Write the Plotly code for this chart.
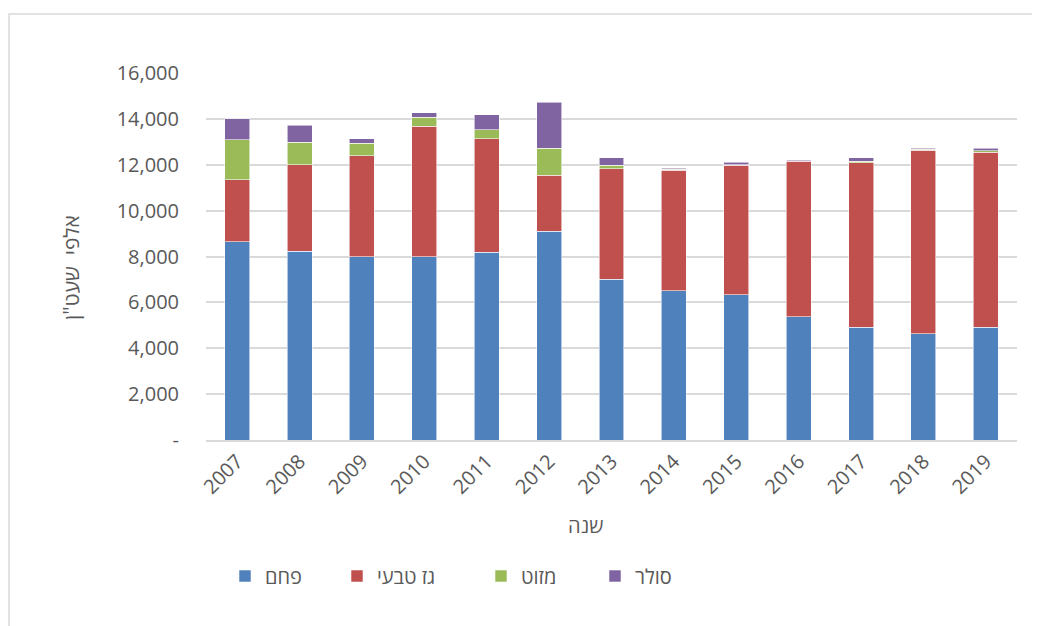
import plotly.graph_objects as go

years = ["2007", "2008", "2009", "2010", "2011", "2012", "2013",
         "2014", "2015", "2016", "2017", "2018", "2019"]
coal = [8650, 8220, 7985, 7985, 8190, 9105, 7010, 6500, 6340, 5370, 4915, 4625, 4915]
gas = [2690, 3780, 4410, 5700, 4945, 2430, 4815, 5250, 5630, 6775, 7170, 8000, 7620]
mazut = [1745, 975, 540, 380, 395, 1180, 160, 60, 30, 20, 60, 60, 75]
solar = [930, 755, 205, 205, 655, 2020, 320, 45, 100, 55, 160, 45, 100]

series_names = ["פחם", "גז טבעי", "מזוט", "סולר"]
series_values = [coal, gas, mazut, solar]
colors = ["#4F81BD", "#C0504D", "#9BBB59", "#8064A2"]

ytickvals = [0, 2000, 4000, 6000, 8000, 10000, 12000, 14000, 16000]
yticktext = ["-", "2,000", "4,000", "6,000", "8,000", "10,000", "12,000", "14,000", "16,000"]

y_title = 'אלפי  שעט"ן'
x_title = "שנה"

FONT = "Open Sans, Liberation Sans, DejaVu Sans, sans-serif"
GRAY = "#595959"

# page offset (default body margin) and plot area in screen pixels
OFF = 8
FIG_W, FIG_H = 1040 - OFF, 626 - OFF
SX0, SX1, SY0, SY1 = 206, 1017, 73, 440
W = SX1 - SX0
H = SY1 - SY0
L = SX0 - OFF
T = SY0 - OFF
R = FIG_W - (SX1 - OFF)
B = FIG_H - (SY1 - OFF)

def px(x):
    return (x - SX0) / W

def py(y):
    return (SY1 - y) / H

legend_names = ["legend", "legend2", "legend3", "legend4"]
legend_x = [225, 337, 481, 595]

fig = go.Figure()
for name, vals, col, lg in zip(series_names, series_values, colors, legend_names):
    fig.add_trace(go.Bar(
        x=years, y=vals, name=name,
        marker=dict(color=col, line=dict(color="rgba(255,255,255,0.7)", width=0.8)),
        legend=lg,
    ))

layout_legends = {}
for lg, lx in zip(legend_names, legend_x):
    layout_legends[lg] = dict(
        x=px(lx), y=py(576), xanchor="left", yanchor="middle",
        orientation="h", font=dict(family=FONT, size=20, color=GRAY),
        bgcolor="rgba(0,0,0,0)", borderwidth=0,
    )

fig.update_layout(
    width=FIG_W, height=FIG_H,
    margin=dict(l=L, r=R, t=T, b=B),
    paper_bgcolor="white", plot_bgcolor="white",
    barmode="stack", bargap=0.6,
    font=dict(family=FONT, size=20, color=GRAY),
    showlegend=True,
    **layout_legends,
)

fig.update_xaxes(
    type="category", tickangle=-45,
    tickfont=dict(family=FONT, size=20, color=GRAY),
    showgrid=False, showline=True, linecolor="#D9D9D9", linewidth=1.5,
    ticks="",
)
fig.update_yaxes(
    range=[0, 16000], tickvals=ytickvals, ticktext=yticktext,
    tickfont=dict(family=FONT, size=20, color=GRAY),
    showgrid=True, gridcolor="#D9D9D9", gridwidth=1.5,
    zeroline=False, showline=False, ticks="", ticklabelstandoff=26,
)

fig.add_annotation(
    text=y_title, x=px(71), y=py(268), xref="paper", yref="paper",
    textangle=-90, showarrow=False, font=dict(family=FONT, size=21, color=GRAY),
    xanchor="center", yanchor="middle",
)
fig.add_annotation(
    text=x_title, x=px(585), y=py(525), xref="paper", yref="paper",
    showarrow=False, font=dict(family=FONT, size=20, color=GRAY),
    xanchor="center", yanchor="middle",
)

fig.add_shape(
    type="rect", xref="paper", yref="paper",
    x0=px(9), x1=px(1060), y0=py(660), y1=py(14),
    line=dict(color="#D9D9D9", width=1.5), fillcolor="rgba(0,0,0,0)", layer="below",
)

fig.write_html("out.html")
